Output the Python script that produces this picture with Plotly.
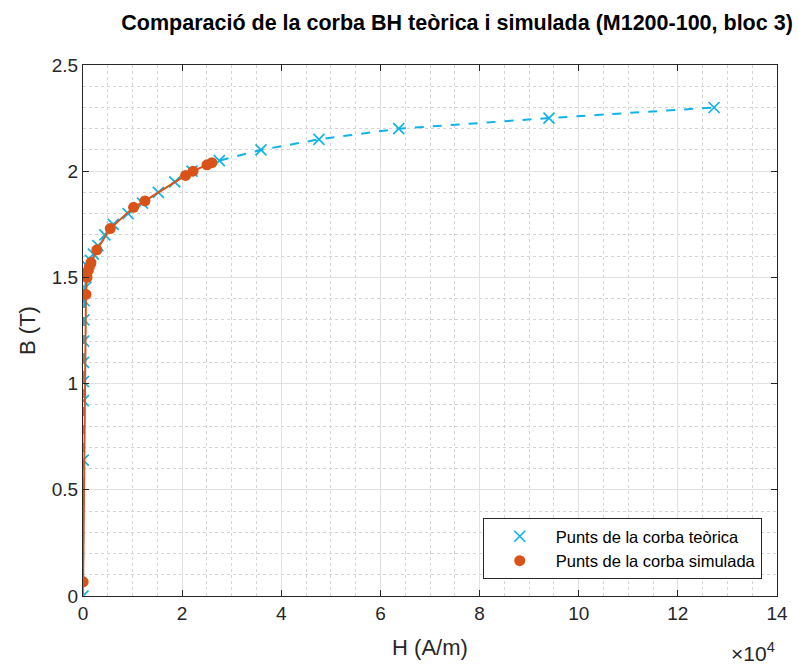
import plotly.graph_objects as go

# Theoretical BH curve points (H in A/m, B in T)
theory_H = [0, 40, 70, 90, 110, 140, 180, 250, 400, 600, 1000, 1500, 2100, 3000,
            4400, 6100, 9100, 12000, 15200, 18500, 22000, 27500, 35900, 47600,
            63700, 94000, 127300]
theory_B = [0, 0.64, 0.92, 1.01, 1.10, 1.20, 1.30, 1.39, 1.45, 1.50, 1.55, 1.58,
            1.61, 1.65, 1.70, 1.75, 1.80, 1.85, 1.90, 1.95, 2.00, 2.05, 2.10, 2.15,
            2.20, 2.25, 2.30]

# Simulated BH curve points
sim_H = [30, 600, 800, 1000, 1300, 1600, 2800, 5500, 10200, 12500, 20700, 22200,
         25000, 26000]
sim_B = [0.067, 1.42, 1.50, 1.53, 1.55, 1.57, 1.63, 1.73, 1.83, 1.86, 1.98, 2.00,
         2.03, 2.04]

x_tickvals = [0, 20000, 40000, 60000, 80000, 100000, 120000, 140000]
x_ticktext = ["0", "2", "4", "6", "8", "10", "12", "14"]
y_tickvals = [0, 0.5, 1, 1.5, 2, 2.5]
y_ticktext = ["0", "0.5", "1", "1.5", "2", "2.5"]

CYAN = "#0FB3E8"
ORANGE = "#D95319"
FONT = "Liberation Sans, Arial, sans-serif"

fig = go.Figure()
fig.add_trace(go.Scatter(x=theory_H, y=theory_B, mode="lines",
                         line=dict(color=CYAN, width=2, dash="dash"),
                         showlegend=False, hoverinfo="skip"))
fig.add_trace(go.Scatter(x=theory_H, y=theory_B, mode="markers",
                         marker=dict(symbol="x-thin", size=11,
                                     line=dict(color=CYAN, width=1.7)),
                         name="Punts de la corba teòrica"))
fig.add_trace(go.Scatter(x=sim_H, y=sim_B, mode="lines",
                         line=dict(color=ORANGE, width=2),
                         showlegend=False, hoverinfo="skip"))
fig.add_trace(go.Scatter(x=sim_H, y=sim_B, mode="markers",
                         marker=dict(symbol="circle", size=11, color=ORANGE),
                         name="Punts de la corba simulada"))

axis_common = dict(
    showline=True, linecolor="#262626", linewidth=1, mirror="ticks",
    ticks="inside", ticklen=6, tickcolor="#262626",
    showgrid=True, gridcolor="#E1E1E1", gridwidth=1,
    zeroline=False,
    tickfont=dict(family=FONT, size=19, color="#262626"),
)

fig.update_layout(
    width=799, height=668,
    margin=dict(l=83, r=22, t=65, b=72),
    paper_bgcolor="white", plot_bgcolor="white",
    font=dict(family=FONT, color="#262626"),
    title=dict(text="<b>Comparació de la corba BH teòrica i simulada (M1200-100, bloc 3)</b>",
               xref="paper", x=0.539, xanchor="center", y=0.967, yanchor="middle",
               font=dict(family=FONT, size=21.5, color="black")),
    xaxis=dict(range=[0, 140000], tickvals=x_tickvals, ticktext=x_ticktext,
               title=dict(text="H (A/m)", font=dict(family=FONT, size=22, color="#262626"), standoff=16),
               minor=dict(dtick=5000, tick0=0, showgrid=True, gridcolor="#D4D4D4",
                          griddash="dot", gridwidth=1, ticks=""),
               **axis_common),
    yaxis=dict(range=[0, 2.5], tickvals=y_tickvals, ticktext=y_ticktext,
               title=dict(text="B (T)", font=dict(family=FONT, size=22, color="#262626"), standoff=10),
               minor=dict(dtick=0.1, tick0=0, showgrid=True, gridcolor="#D4D4D4",
                          griddash="dot", gridwidth=1, ticks=""),
               **axis_common),
    legend=dict(x=0.978, xanchor="right", y=0.032, yanchor="bottom",
                bgcolor="white", bordercolor="#262626", borderwidth=1,
                font=dict(family=FONT, size=16.5, color="black"),
                itemwidth=62, tracegroupgap=0),
    showlegend=True,
)

fig.add_annotation(text="×10<sup>4</sup>", xref="paper", yref="paper",
                   x=1.0, xanchor="right", y=-0.078, yanchor="top",
                   showarrow=False, font=dict(family=FONT, size=21, color="#262626"))

fig.write_html("out.html")
